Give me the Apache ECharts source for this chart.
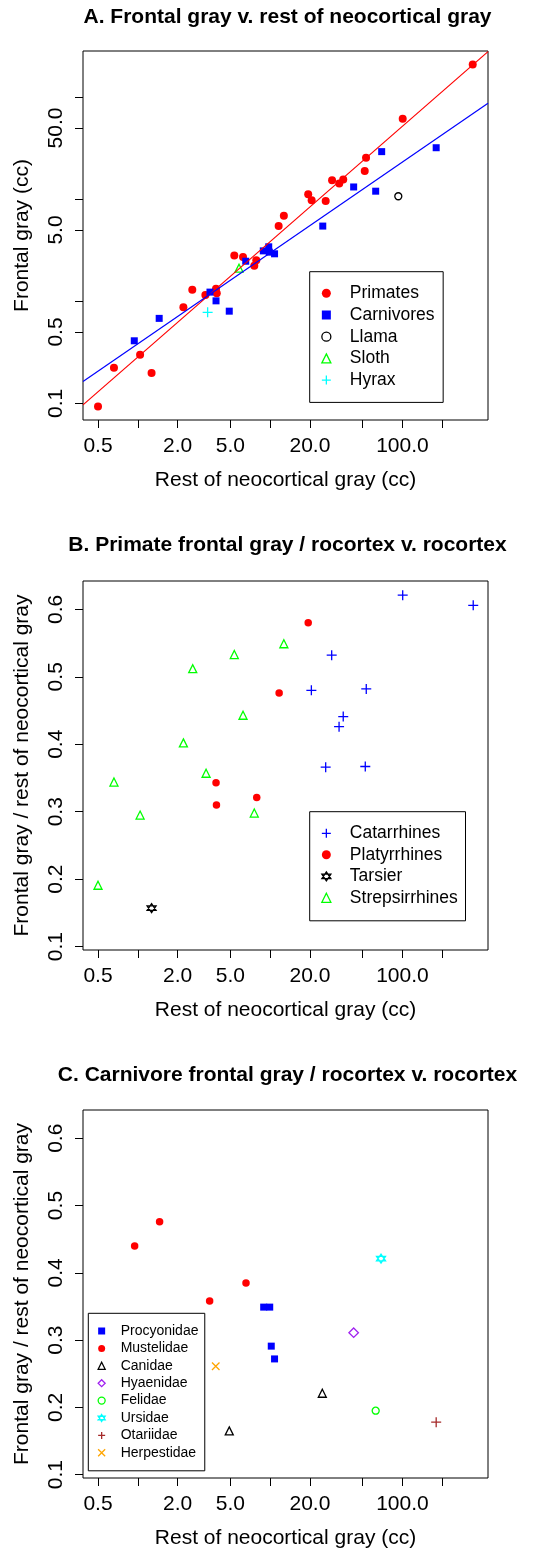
<!DOCTYPE html>
<html>
<head>
<meta charset="utf-8">
<title>Frontal gray v. rest of neocortical gray</title>
<script src="https://cdn.jsdelivr.net/npm/echarts@6.0.0/dist/echarts.min.js"></script>
<style>
  html, body { margin: 0; padding: 0; background: #fff; }
  #chart { width: 543px; height: 1550px; }
</style>
</head>
<body>
<div id="chart"></div>
<script>
// A. frontal gray v. rest of neocortical gray (cc), log-log
var primatesRest = [340, 100.5, 53.1, 51.9, 29.4, 35.7, 33.3, 19.4, 20.6, 26.3, 12.7, 11.6, 5.36, 6.24, 7.86, 7.59, 3.90, 3.95, 3.24, 2.58, 2.21, 1.04, 0.66, 1.27, 0.5];
var primatesFrontal = [209, 61.7, 25.5, 18.9, 15.4, 15.6, 14.3, 11.2, 9.8, 9.6, 6.9, 5.46, 2.81, 2.71, 2.53, 2.23, 1.33, 1.20, 1.15, 1.30, 0.875, 0.30, 0.223, 0.198, 0.093];
var carnivoresRest = [69.7, 180, 42.8, 62.8, 25.0, 9.76, 6.54, 8.88, 9.86, 10.8, 3.51, 3.90, 4.91, 1.45, 0.94];
var carnivoresFrontal = [29.3, 32.0, 13.2, 12.0, 5.46, 3.42, 2.47, 3.12, 3.03, 2.92, 1.23, 1.01, 0.80, 0.68, 0.41];
var llamaRest = [93.1], llamaFrontal = [10.7];
var slothRest = [5.82], slothFrontal = [2.11];
var hyraxRest = [3.37], hyraxFrontal = [0.78];
// fitted lines: log10(frontal) = a + b * log10(rest)
var primatesFit = [-0.547, 1.131];
var carnivoresFit = [-0.418, 0.891];

// B. primate frontal / rest ratio v. rest
var catarrhinesRest = [100.5, 343, 29.2, 20.5, 53.3, 35.7, 33.2, 26.3, 52.4];
var catarrhinesRatio = [0.621, 0.606, 0.532, 0.480, 0.482, 0.441, 0.426, 0.366, 0.367];
var platyrrhinesRest = [19.4, 11.7, 3.90, 3.93, 7.92];
var platyrrhinesRatio = [0.580, 0.476, 0.343, 0.310, 0.321];
var tarsierRest = [1.27], tarsierRatio = [0.157];
var strepsirrhinesRest = [12.7, 5.36, 2.60, 6.24, 2.21, 3.28, 0.66, 1.04, 7.59, 0.5];
var strepsirrhinesRatio = [0.549, 0.533, 0.512, 0.443, 0.402, 0.357, 0.344, 0.295, 0.298, 0.191];

// C. carnivore frontal / rest ratio v. rest
var procyonidaeRest = [8.94, 9.93, 10.2, 10.8], procyonidaeRatio = [0.349, 0.349, 0.291, 0.272];
var mustelidaeRest = [0.946, 1.46, 6.57, 3.49], mustelidaeRatio = [0.440, 0.476, 0.385, 0.358];
var canidaeRest = [24.8, 4.91], canidaeRatio = [0.221, 0.165];
var hyaenidaeRest = [42.8], hyaenidaeRatio = [0.311];
var felidaeRest = [62.8], felidaeRatio = [0.195];
var ursidaeRest = [68.9], ursidaeRatio = [0.421];
var otariidaeRest = [180], otariidaeRatio = [0.178];
var herpestidaeRest = [3.88], herpestidaeRatio = [0.261];

// axis ticks and labels
var xTicks = [0.5, 1, 2, 5, 10, 20, 50, 100, 200];
var xLabels = [0.5, 2, 5, 20, 100];
var yTicksA = [0.1, 0.5, 1, 5, 10, 50, 100];
var yLabelsA = [0.1, 0.5, 5, 50];
var ratioTicks = [0.1, 0.2, 0.3, 0.4, 0.5, 0.6];

var xMin = 0.385, xMax = 443.6;
var yMinA = 0.0686, yMaxA = 284;
var ratioMin = 0.095, ratioMax = 0.642;

var FONT = '"Liberation Sans", Arial, Helvetica, sans-serif';
var PLUS = 'path://M0,5L10,5M5,0L5,10';
var CROSS = 'path://M0,0L10,10M10,0L0,10';
var STAR = 'path://M5,0L10,7.5L0,7.5ZM5,10L10,2.5L0,2.5Z';

function zip (xs, ys) {
  return xs.map(function (x, i) { return [x, ys[i]] })
}

function fmt1 (v) { return Number(v).toFixed(1) }

function fitLine (fit) {
  return [xMin, xMax].map(function (x) {
    return [x, Math.pow(10, fit[0] + fit[1] * Math.log10(x))]
  })
}

// open = outline only (R pch 1, 2, 3, 4, 5, 11)
function scatter (name, xs, ys, idx, symbol, size, color, open) {
  return {
    name: name,
    type: 'scatter',
    xAxisIndex: idx,
    yAxisIndex: idx,
    symbol: symbol,
    symbolSize: size,
    symbolKeepAspect: true,
    data: zip(xs, ys),
    itemStyle: open
      ? { color: 'rgba(0,0,0,0)', borderColor: color, borderWidth: 1.3, opacity: 1 }
      : { color: color, borderWidth: 0, opacity: 1 },
    emphasis: { disabled: true },
    z: 3
  }
}

function xAxisFor (i) {
  return {
    type: 'log',
    logBase: 10,
    gridIndex: i,
    min: xMin,
    max: xMax,
    name: 'Rest of neocortical gray (cc)',
    nameLocation: 'middle',
    nameGap: 50,
    nameTextStyle: { fontSize: 21, color: '#000', fontFamily: FONT },
    axisLine: { show: false },
    axisTick: { show: true, length: 8, lineStyle: { color: '#000', width: 1 }, customValues: xTicks },
    axisLabel: { customValues: xLabels, formatter: fmt1, fontSize: 21, color: '#000', margin: 16, fontFamily: FONT },
    splitLine: { show: false }
  }
}

function yAxisFor (i, type, min, max, name, ticks, labels) {
  return {
    type: type,
    gridIndex: i,
    min: min,
    max: max,
    name: name,
    nameLocation: 'middle',
    nameGap: 50,
    nameTextStyle: { fontSize: 21, color: '#000', fontFamily: FONT },
    axisLine: { show: false },
    axisTick: { show: true, length: 8, lineStyle: { color: '#000', width: 1 }, customValues: ticks },
    axisLabel: { customValues: labels, formatter: fmt1, rotate: 90, fontSize: 21, color: '#000', margin: 16, fontFamily: FONT },
    splitLine: { show: false }
  }
}

// square icon box; row height comes from the text line height
function legendFor (names, left, top, padding, icon, rowH, gap, fontSize, textPad) {
  return {
    data: names,
    orient: 'vertical',
    left: left,
    top: top,
    padding: padding,
    itemWidth: icon,
    itemHeight: icon,
    itemGap: gap,
    selectedMode: false,
    borderColor: '#000',
    borderWidth: 1,
    borderRadius: 0,
    backgroundColor: '#fff',
    itemStyle: { borderWidth: 1.3 },
    textStyle: { fontSize: fontSize, lineHeight: rowH, color: '#000', fontFamily: FONT, padding: [0, 0, 0, textPad] }
  }
}

var titleStyle = { fontSize: 21, fontWeight: 'bold', color: '#000', fontFamily: FONT }

var chart = echarts.init(document.getElementById('chart'))

var option = {
  animation: false,
  backgroundColor: '#fff',
  textStyle: { fontFamily: FONT },
  title: [
    { text: 'A. Frontal gray v. rest of neocortical gray', left: 287.5, top: 7, textAlign: 'center', padding: 0, textStyle: titleStyle },
    { text: 'B. Primate frontal gray / rocortex v. rocortex', left: 287.5, top: 535, textAlign: 'center', padding: 0, textStyle: titleStyle },
    { text: 'C. Carnivore frontal gray / rocortex v. rocortex', left: 287.5, top: 1065, textAlign: 'center', padding: 0, textStyle: titleStyle }
  ],
  grid: [
    { left: 83, top: 51, width: 405, height: 369, show: true, borderColor: '#000', borderWidth: 1, backgroundColor: 'transparent' },
    { left: 83, top: 581, width: 405, height: 369, show: true, borderColor: '#000', borderWidth: 1, backgroundColor: 'transparent' },
    { left: 83, top: 1110, width: 405, height: 369, show: true, borderColor: '#000', borderWidth: 1, backgroundColor: 'transparent' }
  ],
  xAxis: [xAxisFor(0), xAxisFor(1), xAxisFor(2)],
  yAxis: [
    yAxisFor(0, 'log', yMinA, yMaxA, 'Frontal gray (cc)', yTicksA, yLabelsA),
    yAxisFor(1, 'value', ratioMin, ratioMax, 'Frontal gray / rest of neocortical gray', ratioTicks, ratioTicks),
    yAxisFor(2, 'value', ratioMin, ratioMax, 'Frontal gray / rest of neocortical gray', ratioTicks, ratioTicks)
  ],
  legend: [
    legendFor(['Primates', 'Carnivores', 'Llama', 'Sloth', 'Hyrax'], 309.7, 271.7, [12.6, 8.7, 13.3, 11.5], 9, 18, 3.7, 17.5, 14),
    legendFor(['Catarrhines', 'Platyrrhines', 'Tarsier', 'Strepsirrhines'], 309.7, 811.7, [12.6, 7.7, 14, 11.5], 9, 18, 3.5, 17.5, 14),
    legendFor(['Procyonidae', 'Mustelidae', 'Canidae', 'Hyaenidae', 'Felidae', 'Ursidae', 'Otariidae', 'Herpestidae'], 88.3, 1313.3, [10.7, 6.3, 11, 9.2], 7, 14, 3.4, 14, 10.5)
  ],
  series: [
    scatter('Primates', primatesRest, primatesFrontal, 0, 'circle', 8, '#FF0000', false),
    scatter('Carnivores', carnivoresRest, carnivoresFrontal, 0, 'rect', 7, '#0000FF', false),
    scatter('Llama', llamaRest, llamaFrontal, 0, 'circle', 7, '#000000', true),
    scatter('Sloth', slothRest, slothFrontal, 0, 'triangle', 8, '#00FF00', true),
    scatter('Hyrax', hyraxRest, hyraxFrontal, 0, PLUS, 10, '#00FFFF', true),
    { type: 'line', xAxisIndex: 0, yAxisIndex: 0, data: fitLine(primatesFit), symbol: 'none', lineStyle: { color: '#FF0000', width: 1.2 }, silent: true, z: 4 },
    { type: 'line', xAxisIndex: 0, yAxisIndex: 0, data: fitLine(carnivoresFit), symbol: 'none', lineStyle: { color: '#0000FF', width: 1.2 }, silent: true, z: 4 },

    scatter('Catarrhines', catarrhinesRest, catarrhinesRatio, 1, PLUS, 10, '#0000FF', true),
    scatter('Platyrrhines', platyrrhinesRest, platyrrhinesRatio, 1, 'circle', 7.5, '#FF0000', false),
    scatter('Tarsier', tarsierRest, tarsierRatio, 1, STAR, 9, '#000000', true),
    scatter('Strepsirrhines', strepsirrhinesRest, strepsirrhinesRatio, 1, 'triangle', 8, '#00FF00', true),

    scatter('Procyonidae', procyonidaeRest, procyonidaeRatio, 2, 'rect', 7, '#0000FF', false),
    scatter('Mustelidae', mustelidaeRest, mustelidaeRatio, 2, 'circle', 7.5, '#FF0000', false),
    scatter('Canidae', canidaeRest, canidaeRatio, 2, 'triangle', 8, '#000000', true),
    scatter('Hyaenidae', hyaenidaeRest, hyaenidaeRatio, 2, 'diamond', 9.5, '#A020F0', true),
    scatter('Felidae', felidaeRest, felidaeRatio, 2, 'circle', 7, '#00FF00', true),
    scatter('Ursidae', ursidaeRest, ursidaeRatio, 2, STAR, 9, '#00FFFF', true),
    scatter('Otariidae', otariidaeRest, otariidaeRatio, 2, PLUS, 10, '#A52A2A', true),
    scatter('Herpestidae', herpestidaeRest, herpestidaeRatio, 2, CROSS, 7.5, '#FFA500', true)
  ]
}

chart.setOption(option)
</script>
</body>
</html>
